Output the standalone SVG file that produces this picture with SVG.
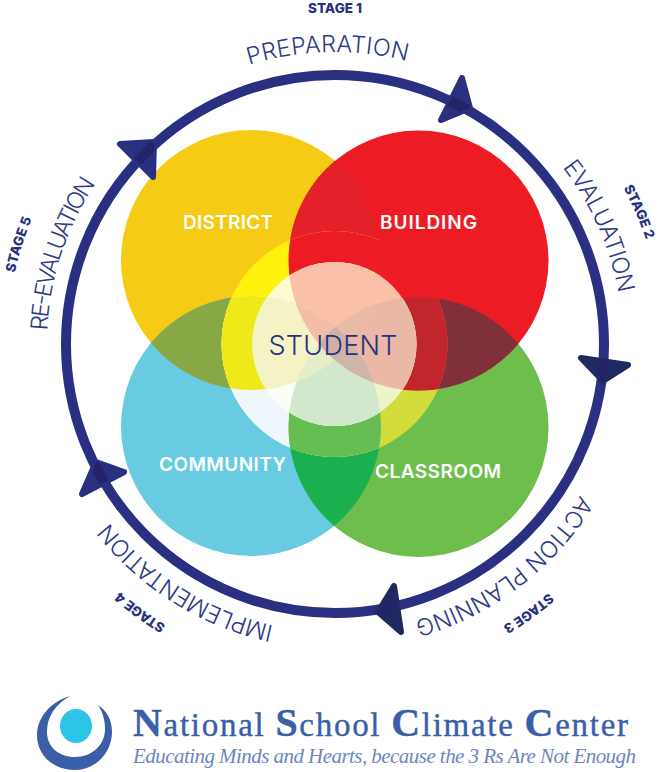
<svg xmlns="http://www.w3.org/2000/svg" width="660" height="772" viewBox="0 0 660 772">
<style>
.sans{font-family:"Inter","Liberation Sans",sans-serif}
.lbl{font-family:"Inter","Liberation Sans",sans-serif;font-weight:600;font-size:19px;fill:#fff;text-anchor:middle}
.stage{font-family:"Inter","Liberation Sans",sans-serif;font-weight:800;font-size:13.500px;fill:#2A3080;text-anchor:middle}
.phase{font-family:"Inter","Liberation Sans",sans-serif;font-weight:300;font-size:23.500px;fill:#2F3A88;text-anchor:middle}
.arrow{stroke-width:6;stroke-linejoin:round}
</style>
<defs>
<clipPath id="y"><circle cx="251" cy="260" r="130"/></clipPath>
<clipPath id="b"><circle cx="251" cy="426" r="130"/></clipPath>
<clipPath id="g"><circle cx="418.500" cy="427" r="130"/></clipPath>
<clipPath id="r"><circle cx="418.500" cy="260.500" r="130"/></clipPath>
<clipPath id="ring"><circle cx="334.500" cy="344" r="113"/></clipPath>
<clipPath id="disk"><circle cx="334.500" cy="344" r="82"/></clipPath>
<clipPath id="yb" clip-path="url(#y)"><circle cx="251" cy="426" r="130"/></clipPath>
<clipPath id="bg" clip-path="url(#b)"><circle cx="418.500" cy="427" r="130"/></clipPath>
<clipPath id="rg" clip-path="url(#r)"><circle cx="418.500" cy="427" r="130"/></clipPath>
<clipPath id="yr" clip-path="url(#y)"><circle cx="418.500" cy="260.500" r="130"/></clipPath>
<clipPath id="ybr" clip-path="url(#yb)"><circle cx="418.500" cy="260.500" r="130"/></clipPath>
<clipPath id="ybg" clip-path="url(#yb)"><circle cx="418.500" cy="427" r="130"/></clipPath>
<clipPath id="yrg" clip-path="url(#yr)"><circle cx="418.500" cy="427" r="130"/></clipPath>
<clipPath id="brg" clip-path="url(#bg)"><circle cx="418.500" cy="260.500" r="130"/></clipPath>
<clipPath id="all" clip-path="url(#ybr)"><circle cx="418.500" cy="427" r="130"/></clipPath>
<clipPath id="heads">
<path d="M462 78 L441 120 L470 108Z"/><path d="M581 358 L628 365 L603 381Z"/><path d="M394 586 L401 632 L378 612Z"/><path d="M96 462 L124 472 L82 494Z"/><path d="M120 144 L154 142 L153 177Z"/>
</clipPath>
<path id="p292" d="M335 636 A292 292 0 0 1 335 52 A292 292 0 0 1 335 636"/>
<path id="p288" d="M335 632 A288 288 0 0 1 335 56 A288 288 0 0 1 335 632"/>
<path id="p325" d="M335 672 A328 328 0 0 1 335 16 A328 328 0 0 1 335 672"/>
</defs>

<g id="node-district"><circle cx="251" cy="260" r="130" fill="#F6CB16"/><text class="lbl" x="228" y="229" textLength="90">DISTRICT</text></g>
<g id="node-community"><circle cx="251" cy="426" r="130" fill="#68CBE2"/><text class="lbl" x="222.500" y="471" textLength="127">COMMUNITY</text></g>
<g id="node-classroom"><circle cx="418.500" cy="427" r="130" fill="#6EBE4E"/><text class="lbl" x="438" y="478" textLength="126">CLASSROOM</text></g>
<g id="node-building"><circle cx="418.500" cy="260.500" r="130" fill="#ED1C24"/><text class="lbl" x="428.500" y="229" textLength="97">BUILDING</text></g>

<g id="overlaps">
<rect width="660" height="772" fill="#87A844" clip-path="url(#yb)"/>
<rect width="660" height="772" fill="#1AB050" clip-path="url(#bg)"/>
<rect width="660" height="772" fill="#80303A" clip-path="url(#rg)"/>
<rect width="660" height="772" fill="#E4212A" clip-path="url(#yr)"/>
</g>

<g id="node-student">
<g clip-path="url(#ring)">
<rect width="660" height="772" fill="#FFF10E" clip-path="url(#y)"/>
<rect width="660" height="772" fill="#EFF7FD" clip-path="url(#b)"/>
<rect width="660" height="772" fill="#D2DC3B" clip-path="url(#g)"/>
<rect width="660" height="772" fill="#ED1C24" clip-path="url(#r)"/>
<rect width="660" height="772" fill="#F0E91A" clip-path="url(#yb)"/>
<rect width="660" height="772" fill="#65BD54" clip-path="url(#bg)"/>
<rect width="660" height="772" fill="#C2262D" clip-path="url(#rg)"/>
</g>
<g clip-path="url(#disk)">
<rect width="660" height="772" fill="#FEFBD2" clip-path="url(#y)"/>
<rect width="660" height="772" fill="#FBFDF6" clip-path="url(#b)"/>
<rect width="660" height="772" fill="#EEF4C8" clip-path="url(#g)"/>
<rect width="660" height="772" fill="#FCBFA8" clip-path="url(#r)"/>
<rect width="660" height="772" fill="#F5F3C6" clip-path="url(#yb)"/>
<rect width="660" height="772" fill="#D2E8CD" clip-path="url(#bg)"/>
<rect width="660" height="772" fill="#EBB8A8" clip-path="url(#rg)"/>
<rect width="660" height="772" fill="#F4BDA6" clip-path="url(#ybr)"/>
<rect width="660" height="772" fill="#E6EEC8" clip-path="url(#ybg)"/>
<rect width="660" height="772" fill="#E8BAA8" clip-path="url(#yrg)"/>
<rect width="660" height="772" fill="#CFB4A8" clip-path="url(#brg)"/>
<rect width="660" height="772" fill="#CFB0A8" clip-path="url(#all)"/>
</g>
<text x="333" y="355" font-size="27" font-weight="300" fill="#2A3080" text-anchor="middle" textLength="129" class="sans">STUDENT</text>
</g>

<g id="connectors">
<circle cx="335" cy="344" r="269" fill="none" stroke="#2A2F82" stroke-width="10"/>
<path class="arrow" d="M462 78 L441 120 L470 108Z" fill="#2A3080" stroke="#2A3080"/>
<path class="arrow" d="M581 358 L628 365 L603 381Z" fill="#1F2A60" stroke="#1F2A60"/>
<path class="arrow" d="M394 586 L401 632 L378 612Z" fill="#1F2A60" stroke="#1F2A60"/>
<path class="arrow" d="M96 462 L124 472 L82 494Z" fill="#2A3080" stroke="#2A3080"/>
<path class="arrow" d="M120 144 L154 142 L153 177Z" fill="#2A3080" stroke="#2A3080"/>
<circle cx="335" cy="344" r="269" fill="none" stroke="#252368" stroke-width="10" clip-path="url(#heads)"/>
</g>

<g id="phases">
<text class="phase"><textPath href="#p292" startOffset="49.6%" textLength="160">PREPARATION</textPath></text>
<text class="phase"><textPath href="#p288" startOffset="68.33%" textLength="139">EVALUATION</textPath></text>
<text class="phase"><textPath href="#p288" startOffset="89.67%" textLength="213">ACTION PLANNING</textPath></text>
<text class="phase"><textPath href="#p288" startOffset="8.89%" textLength="198">IMPLEMENTATION</textPath></text>
<text class="phase"><textPath href="#p288" startOffset="30.08%" textLength="157">RE-EVALUATION</textPath></text>
</g>
<g id="stages">
<text class="stage" x="335" y="13">STAGE 1</text>
<text class="stage"><textPath href="#p325" startOffset="68.47%">STAGE 2</textPath></text>
<text class="stage"><textPath href="#p325" startOffset="90.08%">STAGE 3</textPath></text>
<text class="stage"><textPath href="#p325" startOffset="10%">STAGE 4</textPath></text>
<text class="stage"><textPath href="#p325" startOffset="29.86%">STAGE 5</textPath></text>
</g>

<g id="logo">
<path d="M70 696 C50 702 37 718 37 735 C37 756 54 770 75 770 C96 770 112 752 112 732 C112 720 107 711 98 705 C103 713 105 720 105 729 C105 745 92 757 75 757 C59 757 47 747 47 732 C47 716 56 704 70 696Z" fill="#3A5FA8"/>
<ellipse cx="76" cy="726" rx="16" ry="17" fill="#2CC5E8"/>
<text x="133" y="736" font-family="'Liberation Serif',serif" font-size="33" fill="#3A5FA8" stroke="#3A5FA8" stroke-width=".4" textLength="495"><tspan font-size="40" font-weight="700">N</tspan>ational <tspan font-size="40" font-weight="700">S</tspan>chool <tspan font-size="40" font-weight="700">C</tspan>limate <tspan font-size="40" font-weight="700">C</tspan>enter</text>
<text x="133" y="763" font-family="'Liberation Serif',serif" font-style="italic" font-size="21" fill="#6E86BE" textLength="503">Educating Minds and Hearts, because the 3 Rs Are Not Enough</text>
</g>
</svg>
